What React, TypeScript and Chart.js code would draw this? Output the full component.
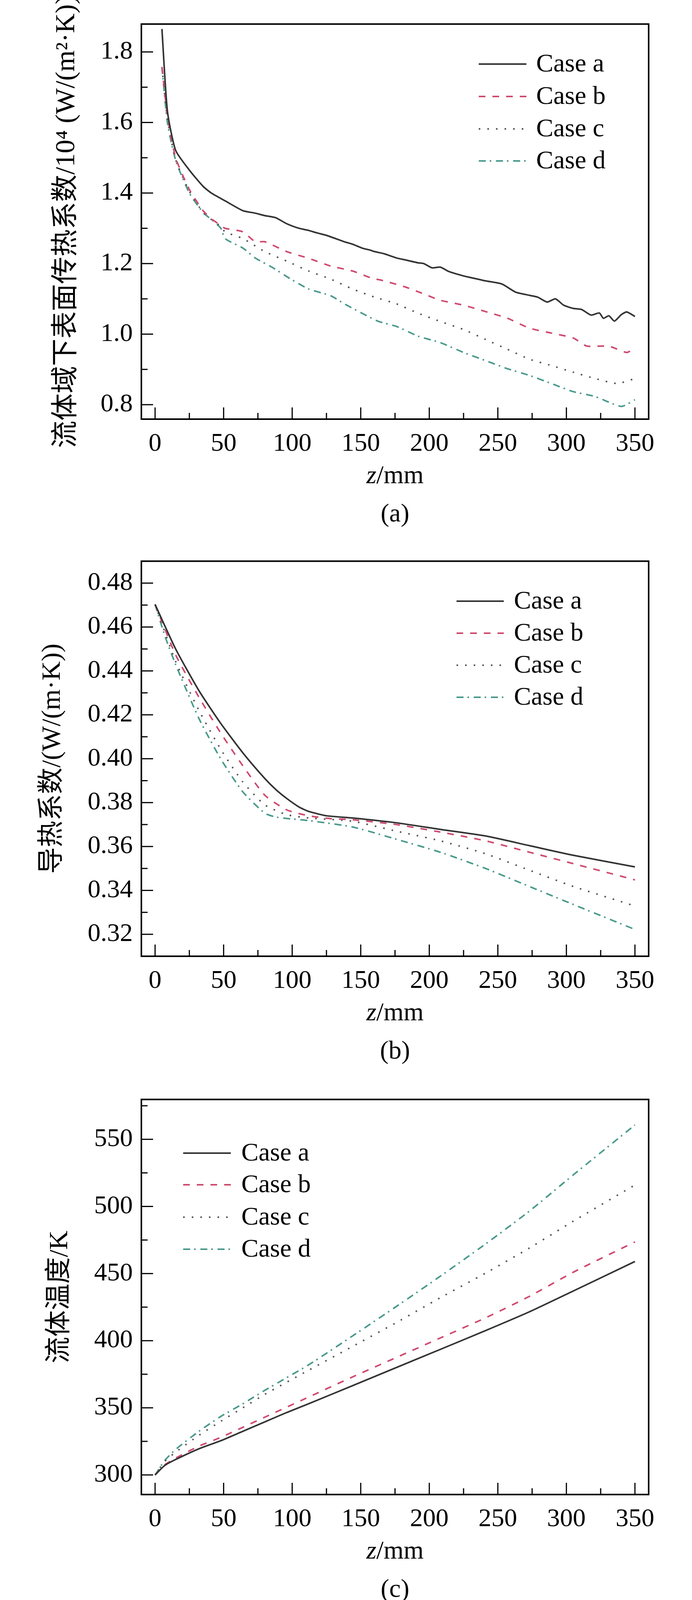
import React, { useEffect, useRef } from "react";
import { Chart, registerables } from "chart.js";
Chart.register(...registerables);

const caseNames = ["Case a", "Case b", "Case c", "Case d"];
const xTicks = [0, 50, 100, 150, 200, 250, 300, 350];

// Panel (a): heat transfer coefficient /10^4 W/(m2·K)
const aX_a = [5, 9, 15, 25, 35, 41, 51, 64, 73, 80, 88, 96, 105, 112, 118, 125, 138, 144, 151, 157, 160, 167, 176, 183, 192, 196, 202, 208, 214, 225, 233, 241, 253, 263, 273, 279, 286, 292, 298, 305, 311, 318, 324, 327, 331, 335, 340, 344, 350];
const aY_a = [1.865, 1.632, 1.521, 1.465, 1.419, 1.4, 1.378, 1.35, 1.343, 1.336, 1.33, 1.313, 1.3, 1.294, 1.287, 1.28, 1.262, 1.255, 1.244, 1.238, 1.234, 1.228, 1.216, 1.21, 1.202, 1.2, 1.188, 1.19, 1.178, 1.165, 1.158, 1.151, 1.142, 1.119, 1.11, 1.105, 1.091, 1.1, 1.082, 1.073, 1.07, 1.054, 1.06, 1.045, 1.052, 1.037, 1.055, 1.063, 1.05];
const aX_b = [5, 9, 15, 25, 35, 41, 48, 51, 64, 73, 80, 96, 112, 128, 144, 157, 167, 183, 196, 208, 225, 241, 257, 273, 289, 305, 315, 331, 344, 350];
const aY_b = [1.757, 1.62, 1.5, 1.41, 1.35, 1.327, 1.308, 1.3, 1.29, 1.262, 1.262, 1.234, 1.215, 1.193, 1.179, 1.16, 1.151, 1.133, 1.114, 1.096, 1.082, 1.064, 1.045, 1.017, 1.003, 0.989, 0.966, 0.966, 0.948, 0.962];
const aX_c = [5, 9, 15, 25, 35, 41, 48, 51, 64, 80, 96, 112, 128, 144, 160, 176, 192, 208, 225, 241, 257, 273, 289, 305, 321, 337, 350];
const aY_c = [1.757, 1.61, 1.495, 1.405, 1.345, 1.325, 1.305, 1.29, 1.271, 1.234, 1.207, 1.179, 1.156, 1.128, 1.105, 1.086, 1.059, 1.036, 1.013, 0.985, 0.957, 0.929, 0.911, 0.892, 0.874, 0.86, 0.874];
const aX_d = [5, 9, 15, 25, 35, 41, 48, 51, 64, 73, 86, 99, 112, 128, 138, 151, 163, 176, 192, 208, 225, 241, 257, 273, 289, 305, 321, 340, 350];
const aY_d = [1.757, 1.6, 1.493, 1.4, 1.345, 1.325, 1.3, 1.271, 1.244, 1.216, 1.188, 1.156, 1.128, 1.109, 1.086, 1.059, 1.036, 1.022, 0.994, 0.976, 0.948, 0.925, 0.902, 0.883, 0.86, 0.837, 0.823, 0.795, 0.814];

// Panel (b): thermal conductivity W/(m·K)
const bX_a = [0, 15, 32, 48, 64, 80, 88, 96, 105, 112, 125, 144, 176, 208, 241, 273, 305, 350];
const bY_a = [0.4703, 0.45, 0.431, 0.416, 0.4027, 0.391, 0.386, 0.3819, 0.378, 0.376, 0.374, 0.373, 0.3708, 0.3678, 0.3648, 0.3604, 0.356, 0.3507];
const bX_b = [0, 15, 32, 48, 64, 80, 96, 112, 128, 144, 176, 208, 241, 273, 305, 350];
const bY_b = [0.4703, 0.4473, 0.428, 0.4116, 0.3968, 0.3834, 0.3767, 0.374, 0.3727, 0.3722, 0.37, 0.3666, 0.3626, 0.3574, 0.3522, 0.3448];
const bX_c = [0, 15, 32, 48, 64, 80, 96, 112, 144, 176, 208, 241, 273, 305, 350];
const bY_c = [0.4703, 0.4443, 0.422, 0.4042, 0.3894, 0.379, 0.3745, 0.373, 0.3715, 0.367, 0.3626, 0.3567, 0.3492, 0.3418, 0.3329];
const bX_d = [0, 7, 15, 32, 48, 64, 80, 89, 112, 144, 176, 208, 241, 273, 305, 350];
const bY_d = [0.4703, 0.4562, 0.4429, 0.4183, 0.3998, 0.3849, 0.3752, 0.3733, 0.3718, 0.3689, 0.3633, 0.3574, 0.35, 0.3418, 0.3336, 0.3222];

// Panel (c): fluid temperature K
const cX_a = [0, 7, 15, 32, 48, 64, 80, 96, 112, 144, 176, 208, 241, 273, 305, 350];
const cY_a = [300, 307, 311.5, 319.5, 325.5, 332.5, 339.5, 346.5, 353, 366.5, 380, 393.5, 407.5, 421.5, 437, 459];
const cX_b = [0, 7, 15, 32, 48, 64, 80, 112, 144, 176, 208, 241, 273, 305, 350];
const cY_b = [300, 307.5, 312.5, 321.5, 328, 335.5, 343, 358, 373, 387.5, 402, 417, 433, 451, 473.6];
const cX_c = [0, 7, 15, 32, 48, 64, 80, 112, 144, 176, 208, 241, 273, 305, 350];
const cY_c = [300, 310, 317, 329.5, 340, 350, 360, 378, 395.7, 413.5, 432, 450.3, 469, 489, 516];
const cX_d = [0, 7, 15, 32, 48, 64, 80, 112, 144, 176, 208, 241, 273, 305, 350];
const cY_d = [300, 310.7, 319, 332.5, 343.6, 353, 363, 382, 403.5, 425.5, 448, 472, 496.5, 523.5, 560.7];

const colors = ["#333333", "#cf4a6e", "#555555", "#4a9a8c"];
const dashes: number[][] = [[], [17, 18], [4, 18], [18, 10, 4, 12]];
const SERIF = "'Times New Roman', 'Liberation Serif', serif";
const CJK = "'Times New Roman', 'Liberation Serif', 'Noto Sans CJK SC', serif";
const FS = 66;

const zip = (xs: number[], ys: number[]) => xs.map((x, i) => ({ x, y: ys[i] }));

type Panel = {
  series: { x: number; y: number }[][];
  yMin: number; yMax: number; yStep: number; yMinor: number; yDec: number;
  yTitle: string; yTitleX: number; yTitleSize: number;
  legendLineX: [number, number]; legendTextX: number; legendY: number[];
  caption: string; height: number;
};

const panels: Panel[] = [
  {
    series: [zip(aX_a, aY_a), zip(aX_b, aY_b), zip(aX_c, aY_c), zip(aX_d, aY_d)],
    yMin: 0.759, yMax: 1.879, yStep: 0.2, yMinor: 0.1, yDec: 1,
    yTitle: "流体域下表面传热系数/10⁴ (W/(m²·K))", yTitleX: 172, yTitleSize: 70,
    legendLineX: [1226, 1348], legendTextX: 1373, legendY: [164, 247, 330, 412],
    caption: "(a)", height: 1375,
  },
  {
    series: [zip(bX_a, bY_a), zip(bX_b, bY_b), zip(bX_c, bY_c), zip(bX_d, bY_d)],
    yMin: 0.31, yMax: 0.49, yStep: 0.02, yMinor: 0.01, yDec: 2,
    yTitle: "导热系数/(W/(m·K))", yTitleX: 135, yTitleSize: 68,
    legendLineX: [1169, 1290], legendTextX: 1316, legendY: [164, 246, 328, 410],
    caption: "(b)", height: 1378,
  },
  {
    series: [zip(cX_a, cY_a), zip(cX_b, cY_b), zip(cX_c, cY_c), zip(cX_d, cY_d)],
    yMin: 285.4, yMax: 579.7, yStep: 50, yMinor: 25, yDec: 0,
    yTitle: "流体温度/K", yTitleX: 154, yTitleSize: 68,
    legendLineX: [469, 591], legendTextX: 618, legendY: [199, 280, 363, 445],
    caption: "(c)", height: 1360,
  },
];

const decor = {
  id: "decor",
  afterDraw(chart: any) {
    const p: Panel = chart.options.plugins.decor.panel;
    const ctx = chart.ctx;
    const { left, right, top, bottom } = chart.chartArea;
    const xs = chart.scales.x, ys = chart.scales.y;
    ctx.save();
    ctx.strokeStyle = "#000";
    ctx.lineWidth = 4;
    ctx.setLineDash([]);
    ctx.strokeRect(left, top, right - left, bottom - top);
    ctx.lineWidth = 3;
    for (let v = 0; v <= 350; v += 25) {
      const px = xs.getPixelForValue(v);
      const len = v % 50 === 0 ? 30 : 16;
      ctx.beginPath(); ctx.moveTo(px, bottom); ctx.lineTo(px, bottom - len); ctx.stroke();
    }
    const start = Math.ceil(p.yMin / p.yMinor - 1e-6);
    for (let k = start; k * p.yMinor <= p.yMax + 1e-9; k++) {
      const v = k * p.yMinor;
      const py = ys.getPixelForValue(v);
      const major = Math.abs(v / p.yStep - Math.round(v / p.yStep)) < 1e-6;
      const len = major ? 30 : 16;
      ctx.beginPath(); ctx.moveTo(left, py); ctx.lineTo(left + len, py); ctx.stroke();
    }
    ctx.font = `${FS}px ${SERIF}`;
    ctx.textBaseline = "middle";
    ctx.fillStyle = "#000";
    caseNames.forEach((n, i) => {
      const y = p.legendY[i];
      ctx.strokeStyle = colors[i];
      ctx.lineWidth = 4;
      ctx.setLineDash(dashes[i]);
      ctx.beginPath(); ctx.moveTo(p.legendLineX[0], y); ctx.lineTo(p.legendLineX[1], y); ctx.stroke();
      ctx.setLineDash([]);
      ctx.textAlign = "left";
      ctx.fillText(n, p.legendTextX, y + 2);
    });
    const midX = (left + right) / 2;
    ctx.textAlign = "left";
    ctx.font = `italic ${FS}px ${SERIF}`;
    const wz = ctx.measureText("z").width;
    ctx.font = `${FS}px ${SERIF}`;
    const wr = ctx.measureText("/mm").width;
    const sx = midX - (wz + wr) / 2;
    ctx.font = `italic ${FS}px ${SERIF}`;
    ctx.fillText("z", sx, 1220);
    ctx.font = `${FS}px ${SERIF}`;
    ctx.fillText("/mm", sx + wz, 1220);
    ctx.textAlign = "center";
    ctx.fillText(p.caption, midX, 1318);
    ctx.save();
    ctx.translate(p.yTitleX, (top + bottom) / 2);
    ctx.rotate(-Math.PI / 2);
    ctx.font = `${p.yTitleSize}px ${CJK}`;
    ctx.textAlign = "center";
    ctx.fillText(p.yTitle, 0, 0);
    ctx.restore();
    ctx.restore();
  },
};

function PanelChart({ p }: { p: Panel }) {
  const ref = useRef<HTMLCanvasElement>(null);
  useEffect(() => {
    const chart = new Chart(ref.current!, {
      type: "line",
      data: {
        datasets: p.series.map((d, i) => ({
          label: caseNames[i],
          data: d,
          borderColor: colors[i],
          borderDash: dashes[i],
          borderWidth: 4,
          pointRadius: 0,
          tension: 0.2,
          fill: false,
        })),
      },
      options: {
        animation: false,
        responsive: false,
        layout: { padding: { top: 28, right: 111, left: 0, bottom: 0 } },
        plugins: { legend: { display: false }, tooltip: { enabled: false }, decor: { panel: p } } as any,
        scales: {
          x: {
            type: "linear", min: -10, max: 360,
            grid: { display: false, drawTicks: false }, border: { display: false },
            afterBuildTicks: (s: any) => { s.ticks = xTicks.map((v) => ({ value: v })); },
            afterFit: (s: any) => { s.height = p.height - 1073; },
            ticks: { padding: 24, color: "#000", font: { family: SERIF, size: FS } },
          },
          y: {
            type: "linear", min: p.yMin, max: p.yMax,
            grid: { display: false, drawTicks: false }, border: { display: false },
            afterBuildTicks: (s: any) => {
              const t: any[] = [];
              const k0 = Math.ceil(p.yMin / p.yStep - 1e-6);
              for (let k = k0; k * p.yStep <= p.yMax + 1e-9; k++) t.push({ value: +(k * p.yStep).toFixed(4) });
              s.ticks = t;
            },
            afterFit: (s: any) => { s.width = 362; },
            ticks: { padding: 22, color: "#000", font: { family: SERIF, size: FS }, callback: (v: any) => Number(v).toFixed(p.yDec) },
          },
        },
      },
      plugins: [decor],
    } as any);
    return () => chart.destroy();
  }, []);
  return <canvas ref={ref} width={1772} height={p.height} style={{ display: "block", width: 1772, height: p.height }} />;
}

export default function App() {
  useEffect(() => { document.body.style.margin = "0"; document.body.style.background = "#fff"; }, []);
  return (
    <div style={{ width: 1772, background: "#fff" }}>
      {panels.map((p, i) => <PanelChart key={i} p={p} />)}
    </div>
  );
}
